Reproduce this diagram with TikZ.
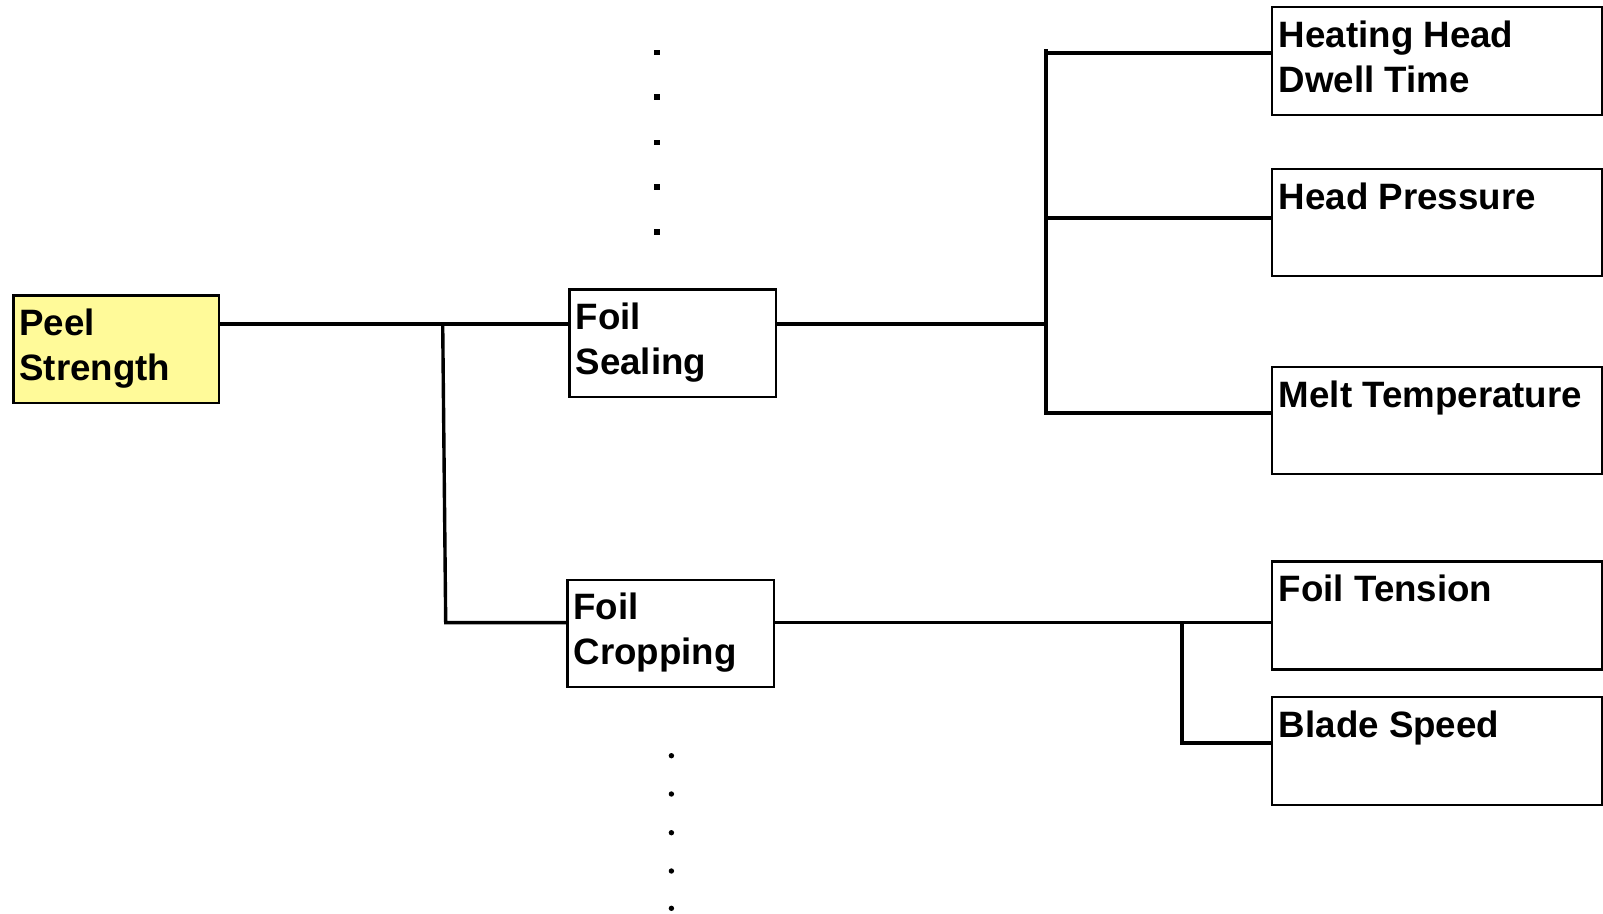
\documentclass[tikz,border=0pt]{standalone}
\usepackage{fontspec}
\setmainfont{Liberation Sans}
\begin{document}
\begin{tikzpicture}[x=1pt,y=-1pt,
  box/.style={draw=black,line width=2.2pt,inner sep=0pt,anchor=north west},
  rootbox/.style={box,fill=yellow!40},
  txt/.style={inner sep=0pt,anchor=north west,align=left,
    font=\fontsize{36.7}{45}\selectfont\bfseries},
  wire/.style={draw=black,line width=3.4pt,line cap=rect}]
\useasboundingbox (0,0) rectangle (1603,913);

% boxes
\node[rootbox,minimum width=205.5pt,minimum height=107.4pt] (ps) at (12.3,294.4) {};
\node[box,minimum width=206.6pt,minimum height=107.3pt] (fs) at (568.4,288.3) {};
\node[box,minimum width=206.6pt,minimum height=107.4pt] (fc) at (566.3,578.6) {};
\node[box,minimum width=330.3pt,minimum height=107.4pt] (hh) at (1270.7,6.1) {};
\node[box,minimum width=330.3pt,minimum height=107pt] (hp) at (1270.7,168) {};
\node[box,minimum width=330.3pt,minimum height=107pt] (mt) at (1270.7,366) {};
\node[box,minimum width=330.3pt,minimum height=108pt] (ft) at (1270.7,560.3) {};
\node[box,minimum width=330.3pt,minimum height=107.3pt] (bs) at (1270.7,696.2) {};

% labels
\node[txt] (psT) at ([xshift=7pt,yshift=-14.5pt]ps.north west) {Peel\\Strength};
\node[txt] (fsT) at ([xshift=7pt,yshift=-14.5pt]fs.north west) {Foil\\Sealing};
\node[txt] (fcT) at ([xshift=7pt,yshift=-14.5pt]fc.north west) {Foil\\Cropping};
\node[txt] (hhT) at ([xshift=8pt,yshift=-14.5pt]hh.north west) {Heating Head\\Dwell Time};
\node[txt] (hpT) at ([xshift=8pt,yshift=-14.5pt]hp.north west) {Head Pressure};
\node[txt] (mtT) at ([xshift=8pt,yshift=-14.5pt]mt.north west) {Melt Temperature};
\node[txt] (ftT) at ([xshift=8pt,yshift=-14.5pt]ft.north west) {Foil Tension};
\node[txt] (bsT) at ([xshift=8pt,yshift=-14.5pt]bs.north west) {Blade Speed};

% branch points
\coordinate (jA) at (442.7,324);
\coordinate (jB) at (445.7,622.6);
\coordinate (jC) at (1045.8,324);
\coordinate (sTop) at (1045.8,51);
\coordinate (sBot) at (1045.8,412);
\coordinate (jD) at (1181.8,622.6);

% first level
\draw[wire] (ps.east |- jA) -- (fs.west |- jA);
\draw[wire] (jA) -- (jB) -- (fc.west |- jB);

% foil sealing branch
\draw[wire] (fs.east |- jC) -- (jC);
\draw[wire] (sTop) -- (sBot);
\draw[wire] (sTop |- 0,53) -- (hh.west |- 0,53);
\draw[wire] (sTop |- 0,218) -- (hp.west |- 0,218);
\draw[wire] (sTop |- 0,413) -- (mt.west |- 0,413);

% foil cropping branch
\draw[wire] (fc.east |- jB) -- (ft.west |- jB);
\draw[wire] (jD) -- (jD |- 0,743) -- (bs.west |- 0,743);

% ellipsis dots
\foreach \y in {52.3,97,142.3,187,232}
  \fill (657,\y) ++(-2.7,-2.7) rectangle ++(5.4,5.4);
\foreach \y in {755.7,794,832.7,871,908.3}
  \fill (671.4,\y) circle (2.7pt);
\end{tikzpicture}
\end{document}
